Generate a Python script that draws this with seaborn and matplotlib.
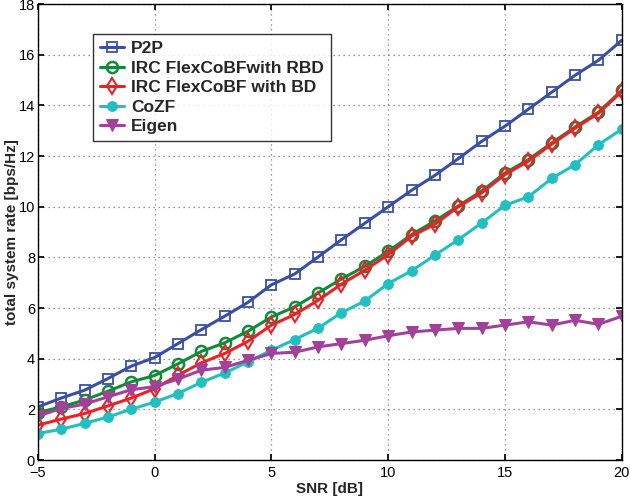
import matplotlib.pyplot as plt
import numpy as np
import pandas as pd
import seaborn as sns

sns.set_theme(style="white")
plt.rcParams['font.family'] = ['Liberation Sans', 'DejaVu Sans']

snr = list(range(-5, 21))

p2p = [2.1, 2.45, 2.76, 3.22, 3.71, 4.05, 4.6, 5.15, 5.68, 6.23, 6.92, 7.35, 8.02,
       8.7, 9.35, 10.0, 10.65, 11.24, 11.9, 12.58, 13.18, 13.85, 14.52, 15.19, 15.78, 16.57]
irc_rbd = [1.88, 2.1, 2.37, 2.72, 3.09, 3.34, 3.8, 4.29, 4.63, 5.09, 5.65, 6.05, 6.6,
           7.15, 7.65, 8.24, 8.9, 9.44, 10.03, 10.62, 11.33, 11.86, 12.52, 13.15, 13.73, 14.6]
irc_bd = [1.38, 1.62, 1.84, 2.14, 2.45, 2.82, 3.35, 3.84, 4.21, 4.69, 5.33, 5.75, 6.31,
          6.95, 7.5, 8.11, 8.84, 9.31, 10.0, 10.55, 11.27, 11.8, 12.47, 13.1, 13.69, 14.55]
cozf = [1.05, 1.22, 1.45, 1.7, 2.01, 2.29, 2.63, 3.07, 3.44, 3.88, 4.34, 4.76, 5.21,
        5.82, 6.28, 6.97, 7.47, 8.09, 8.7, 9.36, 10.06, 10.39, 11.12, 11.66, 12.45, 13.06]
eigen = [1.74, 2.04, 2.21, 2.5, 2.78, 2.9, 3.2, 3.55, 3.66, 3.94, 4.21, 4.26, 4.47,
         4.6, 4.73, 4.91, 5.06, 5.13, 5.2, 5.2, 5.33, 5.46, 5.33, 5.52, 5.36, 5.68]

labels = ['P2P', 'IRC FlexCoBFwith RBD', 'IRC FlexCoBF with BD', 'CoZF', 'Eigen']
colors = ['#3a4fa3', '#138a3a', '#ee2026', '#22bfc0', '#a2409a']
styles = [dict(marker='s', markersize=7, markerfacecolor='none', markeredgewidth=1.3),
          dict(marker='o', markersize=8, markerfacecolor='none', markeredgewidth=1.8),
          dict(marker='d', markersize=8, markerfacecolor='none', markeredgewidth=1.5),
          dict(marker='o', markersize=7),
          dict(marker='v', markersize=9)]

fig, ax = plt.subplots(figsize=(6.3, 5.04), dpi=100)
fig.subplots_adjust(left=0.060, right=0.987, bottom=0.087, top=0.992)

for vals, lab, col, st in zip([p2p, irc_rbd, irc_bd, cozf, eigen], labels, colors, styles):
    sns.lineplot(x=snr, y=vals, ax=ax, color=col, label=lab, linewidth=2.2,
                 markeredgecolor=col, **st)

ax.set_xlim(-5, 20)
ax.set_ylim(0, 18)
ax.set_xticks([-5, 0, 5, 10, 15, 20])
ax.set_yticks(range(0, 19, 2))
ax.grid(True, linestyle=(0, (1, 3)), color='#777777', linewidth=0.9)
for s in ax.spines.values():
    s.set_color('black')
    s.set_linewidth(1.0)
ax.tick_params(axis='both', labelsize=10.5, direction='in', length=4, colors='black',
               left=True, bottom=True, right=True, top=True, pad=2)
ax.tick_params(axis='x', pad=4.5)
ax.set_xlabel('SNR [dB]', fontsize=11, fontweight='bold', labelpad=1)
ax.set_ylabel('total system rate [bps/Hz]', fontsize=11, fontweight='bold', labelpad=0)

leg = ax.legend(loc='upper left', bbox_to_anchor=(0.094, 0.934), frameon=True, fancybox=False,
                prop={'weight': 'bold', 'size': 12.5}, handlelength=1.4, labelspacing=0.25,
                borderpad=0.4, handletextpad=0.4, borderaxespad=0)
leg.get_frame().set_edgecolor('black')
leg.get_frame().set_linewidth(1.0)

plt.savefig('out.png', dpi=100)
